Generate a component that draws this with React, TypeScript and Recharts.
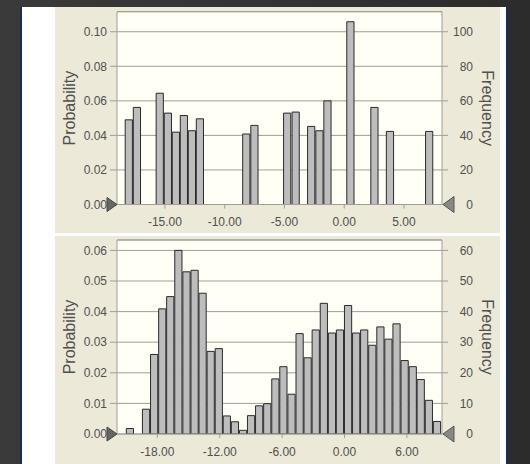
import { Bar, BarChart, CartesianGrid, ReferenceDot, ReferenceLine, XAxis, YAxis } from 'recharts';

// top histogram: discrete outcomes (bar centers) and their probabilities
const topCenters = [
  -17.99, -17.31, -15.4, -14.72, -14.05, -13.38, -12.71, -12.04, -8.16, -7.48, -4.74, -4.03, -2.73, -2.04,
  -1.37, 0.55, 2.56, 3.86, 7.14,
];
const topProb = [
  0.049, 0.0562, 0.0644, 0.0529, 0.0419, 0.0515, 0.0427, 0.0496, 0.0408, 0.0458, 0.0529, 0.0535, 0.0452,
  0.0427, 0.06, 0.1058, 0.0562, 0.0423, 0.0423,
];
const topXTicks = [-15, -10, -5, 0, 5];
const topProbTicks = [0, 0.02, 0.04, 0.06, 0.08, 0.1];
const topFreqTicks = [0, 20, 40, 60, 80, 100];

// bottom histogram: 39 bins
const bottomCenters = [
  -20.6, -19.82, -19.05, -18.27, -17.49, -16.72, -15.94, -15.16, -14.38, -13.61, -12.83, -12.05, -11.28,
  -10.5, -9.72, -8.95, -8.17, -7.39, -6.61, -5.84, -5.06, -4.28, -3.51, -2.73, -1.95, -1.17, -0.4, 0.38,
  1.16, 1.93, 2.71, 3.49, 4.26, 5.04, 5.82, 6.6, 7.37, 8.15, 8.93,
];
const bottomProb = [
  0.0018, 0, 0.0081, 0.026, 0.0409, 0.0449, 0.06, 0.053, 0.0535, 0.046, 0.027, 0.0279, 0.0059, 0.004,
  0.0012, 0.006, 0.0092, 0.0099, 0.018, 0.022, 0.013, 0.0328, 0.0249, 0.034, 0.0427, 0.033, 0.034, 0.042,
  0.033, 0.034, 0.029, 0.035, 0.031, 0.036, 0.024, 0.022, 0.0178, 0.011, 0.0041,
];
const bottomXTicks = [-18, -12, -6, 0, 6];
const bottomProbTicks = [0, 0.01, 0.02, 0.03, 0.04, 0.05, 0.06];
const bottomFreqTicks = [0, 10, 20, 30, 40, 50, 60];

const TRIALS = 1000;

const FONT = '"Liberation Sans", Arial, sans-serif';
const TEXT = '#505050';
const GRID = '#9f9f97';
const CHART_W = 445;
const LEFT_W = 62;
const RIGHT_W = 58;
const PLOT_W = CHART_W - LEFT_W - RIGHT_W;

type PanelProps = {
  centers: number[];
  probs: number[];
  xDomain: [number, number];
  yMax: number;
  xTicks: number[];
  probTicks: number[];
  freqTicks: number[];
  binWidth: number;
  top: number;
  height: number;
  marginTop: number;
  xAxisHeight: number;
};

const leftMarker = (p: any) => (
  <polygon
    points={`${p.cx},${p.cy} ${p.cx - 10},${p.cy - 7} ${p.cx - 10},${p.cy + 7}`}
    fill="#666666"
    stroke="#444444"
  />
);

const rightMarker = (p: any) => (
  <polygon
    points={`${p.cx + 1},${p.cy} ${p.cx + 12},${p.cy - 8} ${p.cx + 12},${p.cy + 8}`}
    fill="#888888"
    stroke="#555555"
  />
);

function HistPanel({
  centers,
  probs,
  xDomain,
  yMax,
  xTicks,
  probTicks,
  freqTicks,
  binWidth,
  top,
  height,
  marginTop,
  xAxisHeight,
}: PanelProps) {
  const data = centers.map((x, i) => ({ x, p: probs[i] }));
  const barSize = (binWidth * PLOT_W) / (xDomain[1] - xDomain[0]);

  return (
    <div style={{ position: 'absolute', left: 55, top, width: CHART_W, height, background: '#ece9d8' }}>
      <BarChart
        width={CHART_W}
        height={height}
        data={data}
        margin={{ top: marginTop, right: 0, bottom: 0, left: 0 }}
        style={{ fontFamily: FONT }}
      >
        <CartesianGrid yAxisId="prob" vertical={false} stroke={GRID} fill="#fffff5" fillOpacity={1} />
        <XAxis
          dataKey="x"
          type="number"
          domain={xDomain}
          ticks={xTicks}
          allowDataOverflow
          height={xAxisHeight}
          tickSize={4}
          tickMargin={9}
          tickFormatter={(v: number) => v.toFixed(2)}
          tick={{ fill: TEXT, fontSize: 12 }}
          axisLine={{ stroke: GRID }}
          tickLine={{ stroke: GRID }}
        />
        <YAxis
          yAxisId="prob"
          domain={[0, yMax]}
          ticks={probTicks}
          allowDataOverflow
          width={LEFT_W}
          tickSize={7}
          tickMargin={3}
          tickFormatter={(v: number) => v.toFixed(2)}
          tick={{ fill: TEXT, fontSize: 12 }}
          axisLine={{ stroke: GRID }}
          tickLine={{ stroke: GRID }}
          label={{
            content: (p: any) => {
              const vb = p.viewBox;
              const cx = vb.x + 14.5;
              const cy = vb.y + vb.height / 2;
              return (
                <text
                  x={cx}
                  y={cy}
                  transform={`rotate(-90 ${cx} ${cy})`}
                  textAnchor="middle"
                  dominantBaseline="central"
                  fill={TEXT}
                  fontSize={16}
                  fontFamily={FONT}
                >
                  Probability
                </text>
              );
            },
          }}
        />
        <YAxis
          yAxisId="freq"
          orientation="right"
          domain={[0, yMax * TRIALS]}
          ticks={freqTicks}
          allowDataOverflow
          width={RIGHT_W}
          tickSize={6}
          tickMargin={25}
          tick={{ fill: TEXT, fontSize: 12, textAnchor: 'end' }}
          axisLine={{ stroke: GRID }}
          tickLine={{ stroke: GRID }}
          label={{
            content: (p: any) => {
              const vb = p.viewBox;
              const cx = vb.x + 45;
              const cy = vb.y + vb.height / 2;
              return (
                <text
                  x={cx}
                  y={cy}
                  transform={`rotate(90 ${cx} ${cy})`}
                  textAnchor="middle"
                  dominantBaseline="central"
                  fill={TEXT}
                  fontSize={16}
                  fontFamily={FONT}
                >
                  Frequency
                </text>
              );
            },
          }}
        />
        <ReferenceLine yAxisId="prob" y={yMax} stroke={GRID} />
        <Bar
          yAxisId="prob"
          dataKey="p"
          barSize={barSize}
          fill="#bdbdbd"
          stroke="#2a2a2a"
          strokeWidth={1}
          isAnimationActive={false}
        />
        <ReferenceDot yAxisId="prob" x={xDomain[0]} y={0} r={1} shape={leftMarker} />
        <ReferenceDot yAxisId="prob" x={xDomain[1]} y={0} r={1} shape={rightMarker} />
      </BarChart>
    </div>
  );
}

export default function App() {
  return (
    <div
      style={{
        position: 'absolute',
        left: 0,
        top: 0,
        width: 530,
        height: 464,
        overflow: 'hidden',
        background: 'linear-gradient(90deg, #3a3a3a 0%, #2c2c2c 100%)',
      }}
    >
      <div
        style={{
          position: 'absolute',
          left: 20,
          top: 7,
          width: 488,
          height: 457,
          background: '#ffffff',
          borderLeft: '2px solid #1c2c55',
          borderRight: '2px solid #1c2c55',
          boxSizing: 'border-box',
        }}
      />
      <HistPanel
        centers={topCenters}
        probs={topProb}
        xDomain={[-19.01, 8.18]}
        yMax={0.1116}
        xTicks={topXTicks}
        probTicks={topProbTicks}
        freqTicks={topFreqTicks}
        binWidth={0.67}
        top={7}
        height={226}
        marginTop={4.7}
        xAxisHeight={28.5}
      />
      <HistPanel
        centers={bottomCenters}
        probs={bottomProb}
        xDomain={[-21.88, 9.375]}
        yMax={0.0634}
        xTicks={bottomXTicks}
        probTicks={bottomProbTicks}
        freqTicks={bottomFreqTicks}
        binWidth={0.777}
        top={236}
        height={228}
        marginTop={4}
        xAxisHeight={30}
      />
    </div>
  );
}
